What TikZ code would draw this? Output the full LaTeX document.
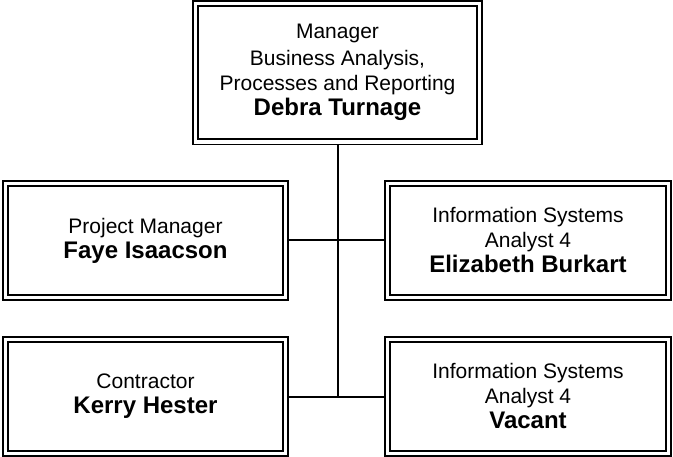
\documentclass[tikz,border=0pt]{standalone}
\usepackage{fontspec}
\setmainfont{Liberation Sans}
\usetikzlibrary{backgrounds}
\tikzset{
  orgbox/.style={draw, double, line width=1.8bp, double distance=3.4bp, fill=white,
    inner sep=0pt, outer sep=0pt, align=center,
    font=\fontsize{21bp}{25bp}\selectfont},
  link/.style={draw, line width=2bp}
}
\newcommand{\nm}[1]{{\fontsize{24bp}{27bp}\selectfont\bfseries #1}}
\begin{document}
\begin{tikzpicture}[x=1bp,y=-1bp]
\useasboundingbox (0,0) rectangle (673,457);
\node[orgbox, minimum width=284bp, minimum height=138.5bp] (top) at (337.5,72.75)
  {Manager\\[2bp]Business Analysis,\\Processes and Reporting\\\nm{Debra Turnage}};
\node[orgbox, minimum width=280bp, minimum height=114bp] (faye) at (145.5,240.5)
  {Project Manager\\\nm{Faye Isaacson}};
\node[orgbox, minimum width=281bp, minimum height=114bp] (eliz) at (528,240.5)
  {Information Systems\\Analyst 4\\\nm{Elizabeth Burkart}};
\node[orgbox, minimum width=280bp, minimum height=113.5bp] (kerry) at (145.5,396.5)
  {Contractor\\\nm{Kerry Hester}};
\node[orgbox, minimum width=281bp, minimum height=113.5bp] (vac) at (528,396.5)
  {Information Systems\\Analyst 4\\\nm{Vacant}};
\coordinate (tend) at (top.south |- kerry.east);
\begin{scope}[on background layer]
\fill[white] (0,0) rectangle (673,457);
\draw[link] (top.south) -- (tend);
\draw[link] (faye.east) -- (eliz.west);
\draw[link] (kerry.east) -- (vac.west);
\end{scope}
\end{tikzpicture}
\end{document}
